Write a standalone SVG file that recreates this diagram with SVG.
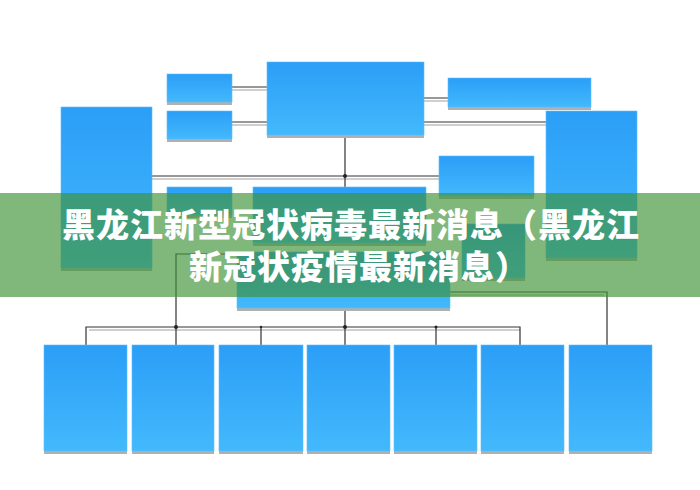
<svg xmlns="http://www.w3.org/2000/svg" width="700" height="490" viewBox="0 0 700 490">
<defs>
<linearGradient id="bg" x1="0" y1="0" x2="0" y2="1">
<stop offset="0" stop-color="#2b9ef7"/>
<stop offset="1" stop-color="#43b9fc"/>
</linearGradient>
</defs>
<style>
.box{fill:url(#bg);stroke:#5fc0fb;stroke-width:0.6}
.sh{fill:#b0b0b0}
.ln{fill:none;stroke:#333;stroke-width:1.2}
.ls{fill:none;stroke:#cfcfcf;stroke-width:2}
.dot{fill:#222}
.t{font-family:"Noto Sans CJK SC","Noto Sans CJK JP",sans-serif;font-weight:900;font-size:33px;letter-spacing:1px;fill:#fff}
</style>
<rect width="700" height="490" fill="#fff"/>
<g id="connectors">
<path class="ls" d="M232 90H267M232 125H267M424 101H448M424 125H546M152 179H439M450 295H604M89 330H520"/>
<path class="ln" d="M232 87H267M232 122H267M424 98H448M424 122H546M345 135V187M152 176H439M237 254H176V327M345 308V345M86 345V327H520V345M176 327V345M261 327V345M436 327V345M450 292H607V345"/>
<circle class="dot" cx="345" cy="176" r="2"/>
<circle class="dot" cx="176" cy="327" r="2"/>
<circle class="dot" cx="345" cy="327" r="2"/>
<circle class="dot" cx="436" cy="327" r="1.5"/>
<circle class="dot" cx="261" cy="327" r="1.2"/>
</g>
<g id="n-a1"><rect class="sh" x="167" y="77" width="65" height="28"/><rect class="box" x="167" y="74" width="65" height="28"/></g>
<g id="n-a2"><rect class="sh" x="167" y="114" width="65" height="28"/><rect class="box" x="167" y="111" width="65" height="28"/></g>
<g id="n-b"><rect class="sh" x="61" y="110" width="91" height="161"/><rect class="box" x="61" y="107" width="91" height="161"/></g>
<g id="n-c"><rect class="sh" x="267" y="65" width="157" height="73"/><rect class="box" x="267" y="62" width="157" height="73"/></g>
<g id="n-d"><rect class="sh" x="448" y="81" width="143" height="29"/><rect class="box" x="448" y="78" width="143" height="29"/></g>
<g id="n-e"><rect class="sh" x="439" y="159" width="95" height="40"/><rect class="box" x="439" y="156" width="95" height="40"/></g>
<g id="n-f"><rect class="sh" x="546" y="114" width="91" height="147"/><rect class="box" x="546" y="111" width="91" height="147"/></g>
<g id="n-g"><rect class="sh" x="167" y="190" width="65" height="28"/><rect class="box" x="167" y="187" width="65" height="28"/></g>
<g id="n-i"><rect class="sh" x="253" y="190" width="173" height="56"/><rect class="box" x="253" y="187" width="173" height="56"/></g>
<g id="n-h"><rect class="sh" x="237" y="255" width="213" height="56"/><rect class="box" x="237" y="252" width="213" height="56"/></g>
<g id="n-j"><rect class="sh" x="462" y="227" width="63" height="54"/><rect class="box" x="462" y="224" width="63" height="54"/></g>
<g id="n-b1"><rect class="sh" x="44" y="348" width="83" height="106"/><rect class="box" x="44" y="345" width="83" height="106"/></g>
<g id="n-b2"><rect class="sh" x="132" y="348" width="82" height="106"/><rect class="box" x="132" y="345" width="82" height="106"/></g>
<g id="n-b3"><rect class="sh" x="219" y="348" width="84" height="106"/><rect class="box" x="219" y="345" width="84" height="106"/></g>
<g id="n-b4"><rect class="sh" x="307" y="348" width="83" height="106"/><rect class="box" x="307" y="345" width="83" height="106"/></g>
<g id="n-b5"><rect class="sh" x="394" y="348" width="83" height="106"/><rect class="box" x="394" y="345" width="83" height="106"/></g>
<g id="n-b6"><rect class="sh" x="481" y="348" width="83" height="106"/><rect class="box" x="481" y="345" width="83" height="106"/></g>
<g id="n-b7"><rect class="sh" x="569" y="348" width="83" height="106"/><rect class="box" x="569" y="345" width="83" height="106"/></g>
<g id="banner">
<rect x="0" y="193" width="700" height="104" fill="#3e9236" fill-opacity="0.66"/>
<text class="t"><tspan x="351" y="237" text-anchor="middle">黑龙江新型冠状病毒最新消息（黑龙江</tspan><tspan x="189" y="279">新冠状疫情最新消息）</tspan></text>
</g>
</svg>
